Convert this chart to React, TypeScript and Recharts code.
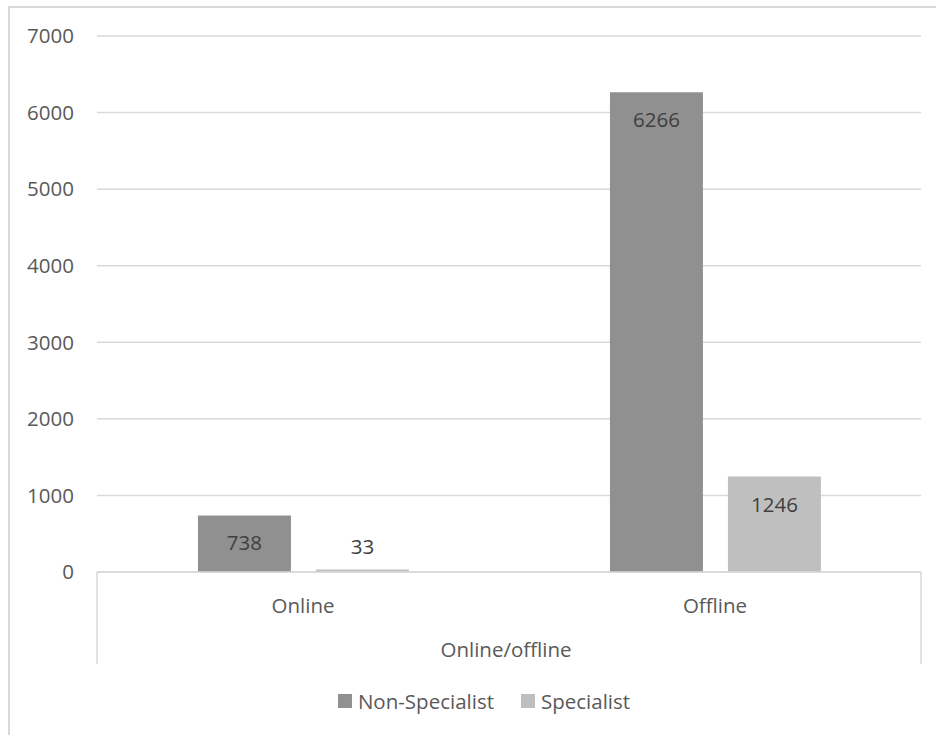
import React from "react";
import { BarChart, Bar, XAxis, YAxis, CartesianGrid, Legend } from "recharts";

const categories = ["Online", "Offline"];
const nonSpecialist = [738, 6266];
const specialist = [33, 1246];
const yTicks = [0, 1000, 2000, 3000, 4000, 5000, 6000, 7000];
const axisTitle = "Online/offline";

const FONT = "'Open Sans', 'Noto Sans', sans-serif";
const FONT_SIZE = 20.5;
const TEXT = "#595959";
const LABEL = "#404040";
const GRID = "#d9d9d9";
const DARK = "#909090";
const LIGHT = "#bfbfbf";

const data = categories.map((category, i) => ({
  category,
  nonSpecialist: nonSpecialist[i],
  specialist: specialist[i],
}));

// value labels sit inside the top of the bar, or just above it when the bar is too short
const renderValueLabel = (props: any) => {
  const { x, y, width, height, value } = props;
  const cx = Number(x) + Number(width) / 2;
  const h = Number(height);
  const cy = h > 40 ? Number(y) + 27 : Number(y) - 23;
  return (
    <text
      x={cx}
      y={cy}
      textAnchor="middle"
      dominantBaseline="central"
      fill={LABEL}
      fontFamily={FONT}
      fontSize={FONT_SIZE}
    >
      {value}
    </text>
  );
};

// category label plus the outer bracket lines of the grouped axis
const CategoryTick = (props: any) => {
  const { x, y, payload, index, visibleTicksCount } = props;
  const half = payload && typeof payload.offset === "number" && payload.offset > 0 ? payload.offset : 206;
  const last = (visibleTicksCount ?? categories.length) - 1;
  return (
    <g>
      <text
        x={x}
        y={y + 33}
        textAnchor="middle"
        dominantBaseline="central"
        fill={TEXT}
        fontFamily={FONT}
        fontSize={FONT_SIZE}
      >
        {payload.value}
      </text>
      {index === 0 && <line x1={x - half} x2={x - half} y1={y} y2={y + 92} stroke={GRID} strokeWidth={1.5} />}
      {index === last && <line x1={x + half} x2={x + half} y1={y} y2={y + 92} stroke={GRID} strokeWidth={1.5} />}
    </g>
  );
};

const renderAxisTitle = (props: any) => {
  const vb = props.viewBox || {};
  return (
    <text
      x={vb.x + vb.width / 2 - 3}
      y={vb.y + 77}
      textAnchor="middle"
      dominantBaseline="central"
      fill={TEXT}
      fontFamily={FONT}
      fontSize={FONT_SIZE}
    >
      {axisTitle}
    </text>
  );
};

const renderLegend = (props: any) => {
  const items = props.payload || [];
  return (
    <div
      style={{
        display: "flex",
        justifyContent: "center",
        alignItems: "center",
        height: 28,
        paddingLeft: 32,
        fontFamily: FONT,
        fontSize: FONT_SIZE,
        color: TEXT,
      }}
    >
      {items.map((item: any, i: number) => (
        <div key={i} style={{ display: "flex", alignItems: "center", marginLeft: i === 0 ? 0 : 27 }}>
          <span style={{ width: 14, height: 14, background: item.color, marginRight: 6, display: "inline-block" }} />
          <span>{item.value}</span>
        </div>
      ))}
    </div>
  );
};

const App: React.FC = () => {
  return (
    <div style={{ position: "fixed", left: 0, top: 0, width: 936, height: 735, background: "#fff", overflow: "hidden" }}>
      <div
        style={{
          position: "absolute",
          left: 8,
          top: 6,
          width: 940,
          height: 740,
          borderLeft: `2px solid ${GRID}`,
          borderTop: `2px solid ${GRID}`,
        }}
      />
      <div style={{ position: "absolute", left: 0, top: 0 }}>
        <BarChart
          width={936}
          height={735}
          data={data}
          margin={{ top: 36, right: 15, left: 0, bottom: 20 }}
          barCategoryGap="24.5%"
          barGap={25}
        >
          <CartesianGrid vertical={false} stroke={GRID} strokeWidth={1.5} />
          <XAxis
            dataKey="category"
            height={115}
            axisLine={{ stroke: GRID, strokeWidth: 1.5 }}
            tickLine={false}
            tickSize={0}
            tickMargin={0}
            tick={<CategoryTick />}
            interval={0}
            label={renderAxisTitle}
          />
          <YAxis
            width={97}
            domain={[0, 7000]}
            ticks={yTicks}
            axisLine={false}
            tickLine={false}
            tickSize={0}
            tickMargin={23}
            tick={{ fill: TEXT, fontFamily: FONT, fontSize: FONT_SIZE }}
          />
          <Legend
            verticalAlign="bottom"
            content={renderLegend}
            wrapperStyle={{ left: 0, width: 936, height: 28 }}
          />
          <Bar dataKey="nonSpecialist" name="Non-Specialist" fill={DARK} isAnimationActive={false} label={renderValueLabel} />
          <Bar dataKey="specialist" name="Specialist" fill={LIGHT} isAnimationActive={false} label={renderValueLabel} />
        </BarChart>
      </div>
    </div>
  );
};

export default App;
